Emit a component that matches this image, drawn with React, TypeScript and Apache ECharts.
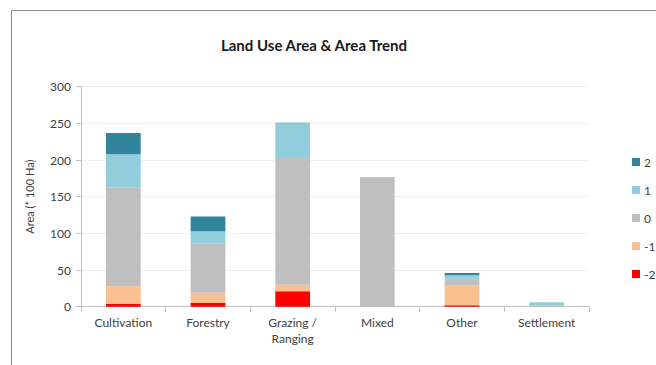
import React, { useEffect, useRef } from "react";
import * as echarts from "echarts";

const categories = ["Cultivation", "Forestry", "Grazing /\nRanging", "Mixed", "Other", "Settlement"];
const trendNames = ["2", "1", "0", "-1", "-2"];

// Area per trend class, in units of 100 Ha
const trendMinus2 = [4, 5, 21, 0, 2, 0];
const trendMinus1 = [24, 14, 9, 0, 27, 0];
const trend0 = [135, 67, 174, 176, 9, 2];
const trend1 = [45, 17, 46, 1, 5, 4];
const trend2 = [29, 20, 1, 0, 3, 0];

const yTicks = { min: 0, max: 300, interval: 50 };

const colors: Record<string, string> = {
  "2": "#31849b",
  "1": "#92cddc",
  "0": "#bfbfbf",
  "-1": "#fac090",
  "-2": "#ff0000",
};

const FONT = "Lato, 'Liberation Sans', sans-serif";

export default function App() {
  const ref = useRef<HTMLDivElement>(null);

  useEffect(() => {
    if (!ref.current) return;
    const chart = echarts.init(ref.current, undefined, { renderer: "svg" });

    // stacked from the bottom: -2, -1, 0, 1, 2
    const stackData: [string, number[]][] = [
      ["-2", trendMinus2],
      ["-1", trendMinus1],
      ["0", trend0],
      ["1", trend1],
      ["2", trend2],
    ];

    chart.setOption({
      animation: false,
      backgroundColor: "#ffffff",
      textStyle: { fontFamily: FONT },
      title: {
        text: "Land Use Area & Area Trend",
        left: 309,
        textAlign: "center",
        top: 32,
        textStyle: { fontFamily: FONT, fontSize: 15, fontWeight: "bold", color: "#1a1a1a" },
      },
      legend: {
        orient: "vertical",
        left: 627,
        top: 151,
        itemWidth: 8,
        itemHeight: 8,
        itemGap: 16,
        icon: "rect",
        data: trendNames,
        textStyle: { fontFamily: FONT, fontSize: 12, color: "#404040", padding: [0, 0, 0, -1] },
      },
      grid: { left: 81, right: 67, top: 86.7, bottom: 58.3, containLabel: false },
      xAxis: {
        type: "category",
        data: categories,
        axisLine: { show: true, lineStyle: { color: "#bfbfbf", width: 1 } },
        axisTick: { show: true, alignWithLabel: false, length: 5, lineStyle: { color: "#bfbfbf" } },
        axisLabel: { fontFamily: FONT, fontSize: 12, color: "#404040", margin: 8, lineHeight: 16 },
      },
      yAxis: {
        type: "value",
        min: yTicks.min,
        max: yTicks.max,
        interval: yTicks.interval,
        name: "Area (* 100 Ha)",
        nameLocation: "middle",
        nameGap: 46,
        nameRotate: 90,
        nameTextStyle: { fontFamily: FONT, fontSize: 11, color: "#404040" },
        axisLine: { show: true, lineStyle: { color: "#bfbfbf", width: 1 } },
        axisTick: { show: true, length: 5, inside: false, lineStyle: { color: "#bfbfbf" } },
        axisLabel: { fontFamily: FONT, fontSize: 12, color: "#404040", margin: 10 },
        splitLine: { show: true, lineStyle: { color: "#efefef", width: 1 } },
      },
      graphic: [
        {
          type: "polyline",
          shape: { points: [[11.5, 400], [11.5, 10.5], [700, 10.5]] },
          style: { stroke: "#8c8c8c", lineWidth: 1, fill: "none" },
          silent: true,
        },
      ],
      series: stackData.map(([name, values]) => ({
        name,
        type: "bar",
        stack: "area",
        barWidth: "41%",
        data: values,
        itemStyle: { color: colors[name] },
      })),
    });

    return () => chart.dispose();
  }, []);

  return (
    <div
      ref={ref}
      style={{ position: "absolute", left: 0, top: 0, width: 656, height: 365 }}
    />
  );
}
